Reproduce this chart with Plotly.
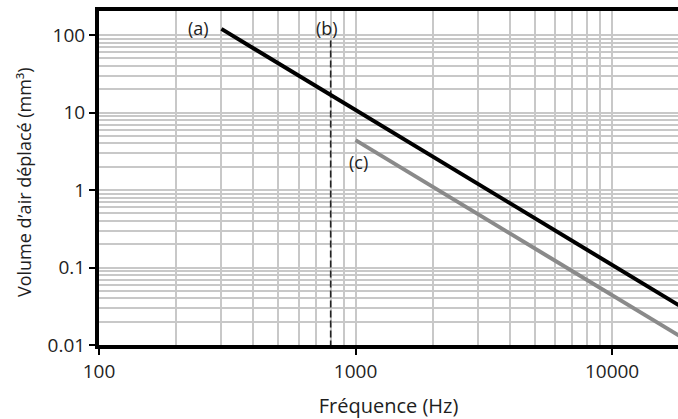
import math
import plotly.graph_objects as go

# Data
freq_a = [300, 20000]
vol_a = [120, 0.027]
freq_c = [1000, 20000]
vol_c = [4.4, 0.011]
freq_b = [800, 800]
vol_b = [85, 0.01]

labels = ["(a)", "(b)", "(c)"]
label_x = [274, 775, 1023]
label_y = [123, 123, 2.27]

x_ticks = [100, 1000, 10000]
x_ticktext = ["100", "1000", "10000"]
y_ticks = [0.01, 0.1, 1, 10, 100]
y_ticktext = ["0.01", "0.1", "1", "10", "100"]

FONT = "Open Sans"
GRID = "#c8c8c8"
TXT = "#1e1e1e"

fig = go.Figure()
fig.add_trace(go.Scatter(x=freq_b, y=vol_b, mode="lines",
                         line=dict(color="#222222", width=1.6, dash="7px,3px"),
                         showlegend=False, hoverinfo="skip"))
fig.add_trace(go.Scatter(x=freq_c, y=vol_c, mode="lines",
                         line=dict(color="#8a8a8a", width=4),
                         showlegend=False))
fig.add_trace(go.Scatter(x=freq_a, y=vol_a, mode="lines",
                         line=dict(color="#000000", width=4),
                         showlegend=False))

anchors = ["right", "center", "center"]
for t, xv, yv, xa in zip(labels, label_x, label_y, anchors):
    fig.add_annotation(x=math.log10(xv), y=math.log10(yv), text=t, showarrow=False,
                       xanchor=xa, yanchor="middle",
                       font=dict(family=FONT, size=18, color=TXT))

# y-axis title placed as a rotated annotation
fig.add_annotation(xref="paper", yref="paper", x=-0.1295, y=0.488,
                   text="Volume d’air déplacé (mm³)", textangle=-90, showarrow=False,
                   xanchor="center", yanchor="middle",
                   font=dict(family=FONT, size=18, color=TXT))

fig.update_xaxes(type="log", range=[2, 4.257],
                 tickvals=x_ticks, ticktext=x_ticktext,
                 showgrid=True, gridcolor=GRID, gridwidth=1.5,
                 minor=dict(dtick="D1", showgrid=True, gridcolor=GRID, gridwidth=1.5, ticks=""),
                 showline=True, linecolor="#000000", linewidth=4, mirror=True,
                 ticks="outside", ticklen=6, tickwidth=1.5, tickcolor="#000000",
                 tickfont=dict(family=FONT, size=19, color=TXT),
                 title=dict(text="Fréquence (Hz)", font=dict(family=FONT, size=20, color=TXT), standoff=18),
                 zeroline=False)
fig.update_yaxes(type="log", range=[-2, 2.31],
                 tickvals=y_ticks, ticktext=y_ticktext,
                 showgrid=True, gridcolor=GRID, gridwidth=1.5,
                 minor=dict(dtick="D1", showgrid=True, gridcolor=GRID, gridwidth=1.5, ticks=""),
                 showline=True, linecolor="#000000", linewidth=4, mirror=False,
                 ticks="outside", ticklen=6, tickwidth=1.5, tickcolor="#000000",
                 tickfont=dict(family=FONT, size=19, color=TXT),
                 zeroline=False)

fig.update_layout(width=678, height=419,
                  margin=dict(l=99, r=0, t=11, b=74),
                  plot_bgcolor="white", paper_bgcolor="white",
                  showlegend=False)

fig.write_html("out.html")
